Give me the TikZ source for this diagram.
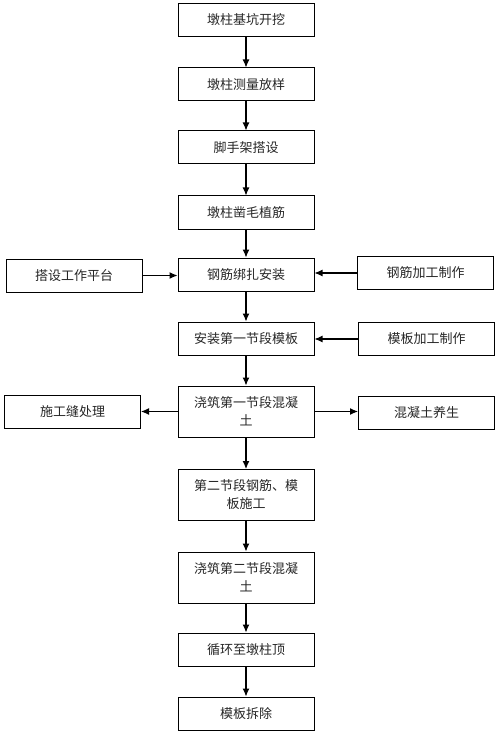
\documentclass[tikz,border=0pt]{standalone}
\usepackage{fontspec}
\setmainfont{Noto Sans CJK SC}
\usetikzlibrary{arrows.meta}

\begin{document}
\begin{tikzpicture}[x=1pt,y=-1pt,
  box/.style={rectangle,draw,line width=1pt,minimum width=136pt,minimum height=33pt,inner sep=0pt,font=\fontsize{13}{18}\selectfont,text=black!85},
  tallbox/.style={box,minimum height=51pt,align=center},
  arr/.style={-{Latex[length=8pt,width=7pt]},line width=1.1pt}]
\useasboundingbox (0,0) rectangle (500,735);
\node[box] at (246,20)	(kaiwa) {墩柱基坑开挖};
\node[box] at (246,84.5)	(fangyang) {墩柱测量放样};
\node[box] at (246,147.5)	(jiaoshou) {脚手架搭设};
\node[box] at (246,212.5)	(zaomao) {墩柱凿毛植筋};
\node[box] at (246,274.5)	(bangzha) {钢筋绑扎安装};
\node[box] at (246,338.5)	(moban1) {安装第一节段模板};
\node[tallbox] at (246,411.5)	(jiaozhu1) {浇筑第一节段混凝\\土};
\node[tallbox] at (246,495)	(moban2) {第二节段钢筋、模\\板施工};
\node[tallbox] at (246,577.5)	(jiaozhu2) {浇筑第二节段混凝\\土};
\node[box] at (246,649.5)	(xunhuan) {循环至墩柱顶};
\node[box] at (246,713.5)	(chaichu) {模板拆除};

\node[box] at (74,275.5)	(pingtai) {搭设工作平台};
\node[box] at (425.5,273)	(gangjin) {钢筋加工制作};
\node[box] at (426.5,339)	(mobanjg) {模板加工制作};
\node[box] at (72.5,411.5)	(shigongfeng) {施工缝处理};
\node[box] at (426.5,412.5)	(yangsheng) {混凝土养生};

\draw[arr] (kaiwa) -- (fangyang);
\draw[arr] (fangyang) -- (jiaoshou);
\draw[arr] (jiaoshou) -- (zaomao);
\draw[arr] (zaomao) -- (bangzha);
\draw[arr] (bangzha) -- (moban1);
\draw[arr] (moban1) -- (jiaozhu1);
\draw[arr] (jiaozhu1) -- (moban2);
\draw[arr] (moban2) -- (jiaozhu2);
\draw[arr] (jiaozhu2) -- (xunhuan);
\draw[arr] (xunhuan) -- (chaichu);

\draw[arr] (pingtai.east) -- (pingtai.east -| bangzha.west);
\draw[arr] (gangjin.west) -- (gangjin.west -| bangzha.east);
\draw[arr] (mobanjg.west) -- (mobanjg.west -| moban1.east);
\draw[arr] (jiaozhu1) -- (shigongfeng);
\draw[arr] (jiaozhu1.east) -- (jiaozhu1.east -| yangsheng.west);
\end{tikzpicture}
\end{document}
